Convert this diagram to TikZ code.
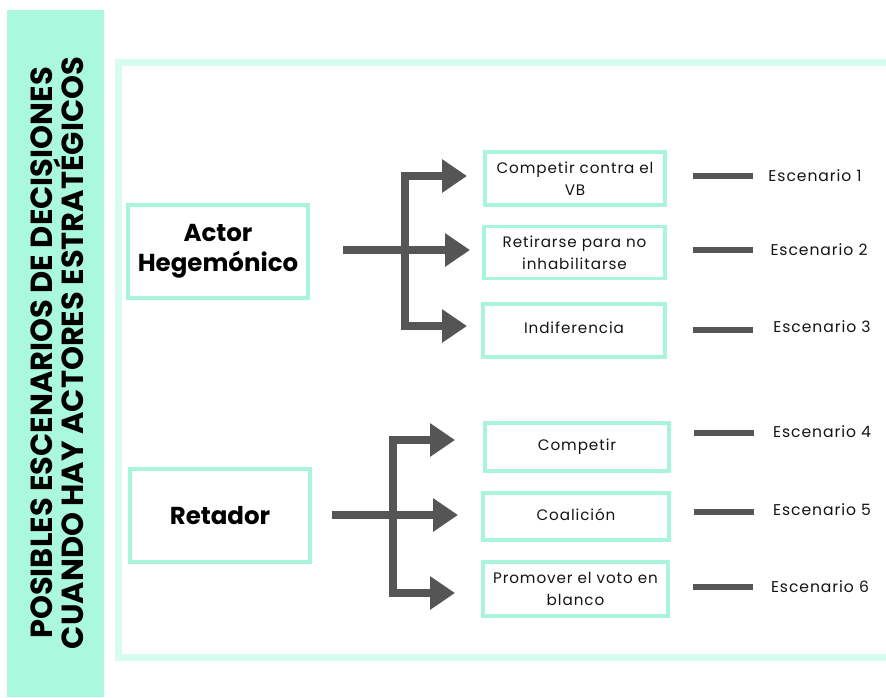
\documentclass[tikz,border=0pt]{standalone}
\usepackage{fontspec}
\setmainfont{Poppins}
\usetikzlibrary{arrows.meta}
\definecolor{mintbar}{RGB}{170,249,222}
\definecolor{mintframe}{RGB}{214,253,240}
\definecolor{mintbox}{RGB}{168,245,220}
\definecolor{arrowgray}{RGB}{85,85,85}
\definecolor{txt}{RGB}{20,20,20}
\tikzset{
  x=1pt,y=-1pt,
  bigbox/.style={draw=mintbox,line width=3.5pt,minimum width=180pt,minimum height=93pt,inner sep=0pt,
    align=center,font=\fontsize{24.5}{30}\selectfont\bfseries,text=black},
  optbox/.style={draw=mintbox,line width=3.5pt,inner sep=0pt,align=center,
    font=\fontsize{15.2}{22}\selectfont\addfontfeatures{LetterSpace=6},text=txt},
  scen/.style={font=\fontsize{15.6}{18}\selectfont\addfontfeatures{LetterSpace=6},text=txt,inner sep=0pt},
  dashbar/.style={fill=arrowgray,minimum width=60pt,minimum height=6pt,inner sep=0pt},
  flow/.style={draw=arrowgray,line width=8pt},
  flowarrow/.style={flow,-{Triangle[length=25pt,width=32pt]}},
}
\begin{document}
\begin{tikzpicture}
\useasboundingbox (0,0) rectangle (886,697);
% left bar
\fill[mintbar] (7,10) rectangle (104,697);
\node[rotate=90,align=center,font=\fontsize{30.5}{25}\selectfont\bfseries,text=black,inner sep=0pt] (title) at (57,353)
  {POSIBLES ESCENARIOS DE DECISIONES\\CUANDO HAY ACTORES ESTRATÉGICOS};
% outer frame
\draw[mintframe,line width=7pt] (900,62) -- (118,62) -- (118,657) -- (900,657);
% main boxes
\node[bigbox] (ah) at (218,251.5) {Actor\\Hegemónico};
\node[bigbox] (ret) at (220,515.5) {Retador};
% option boxes
\node[optbox,minimum width=180pt,minimum height=53pt] (b1) at (575,178.5) {Competir contra el\\VB};
\node[optbox,minimum width=181pt,minimum height=52pt] (b2) at (574.5,252.5) {Retirarse para no\\inhabilitarse};
\node[optbox,minimum width=182pt,minimum height=53pt,text depth=6pt] (b3) at (574,330.5) {Indiferencia};
\node[optbox,minimum width=184pt,minimum height=48pt] (b4) at (577,447) {Competir};
\node[optbox,minimum width=186pt,minimum height=47pt,text depth=4pt] (b5) at (576,516.5) {Coalición};
\node[optbox,minimum width=185pt,minimum height=54pt] (b6) at (575.5,589) {Promover el voto en\\blanco};
% dashes and scenario labels
\node[dashbar] (d1) at (723,176) {};
\node[dashbar] (d2) at (723,250) {};
\node[dashbar] (d3) at (723,330) {};
\node[dashbar] (d4) at (724,433) {};
\node[dashbar] (d5) at (724,512) {};
\node[dashbar] (d6) at (723,587) {};
\node[scen] (e1) at (815,176) {Escenario 1};
\node[scen] (e2) at (819,250) {Escenario 2};
\node[scen] (e3) at (822,327) {Escenario 3};
\node[scen] (e4) at (822,432) {Escenario 4};
\node[scen] (e5) at (822,510) {Escenario 5};
\node[scen] (e6) at (820,587) {Escenario 6};
% top arrows
\coordinate (j1) at (405,250);
\coordinate (t1) at (467,176);
\coordinate (t2) at (470,250);
\coordinate (t3) at (467,326);
\draw[flow] (343,250) -- (j1);
\draw[flow] (405,172) -- (405,330);
\draw[flowarrow] (401,176) -- (t1);
\draw[flowarrow] (j1) -- (t2);
\draw[flowarrow] (401,326) -- (t3);
% bottom arrows
\coordinate (j2) at (393,515);
\coordinate (t4) at (455,440);
\coordinate (t5) at (458,515);
\coordinate (t6) at (455,593);
\draw[flow] (332,515) -- (j2);
\draw[flow] (393,436) -- (393,597);
\draw[flowarrow] (389,440) -- (t4);
\draw[flowarrow] (j2) -- (t5);
\draw[flowarrow] (389,593) -- (t6);
\end{tikzpicture}
\end{document}
